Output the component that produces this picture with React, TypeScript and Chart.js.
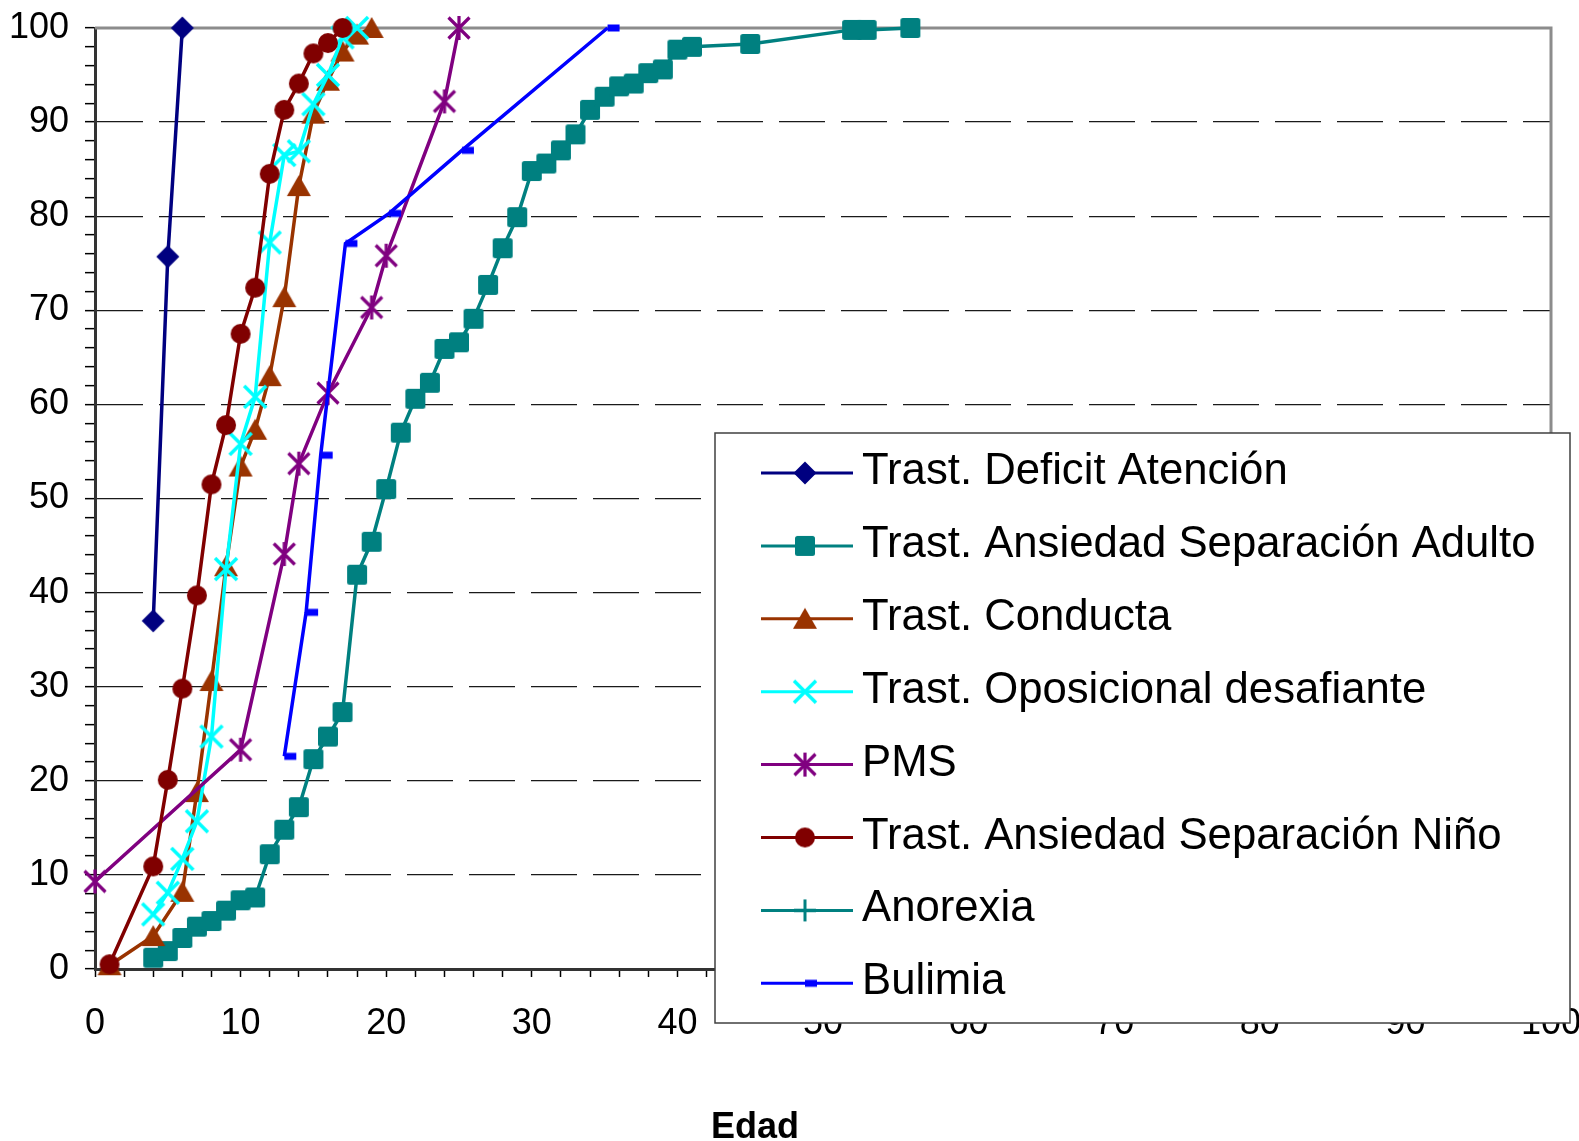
import React, { useEffect, useRef } from 'react';
import { Chart, registerables } from 'chart.js';

Chart.register(...registerables);

// ---- Data ----
const seriesNames = [
  'Trast. Deficit Atención',
  'Trast. Ansiedad Separación Adulto',
  'Trast. Conducta',
  'Trast. Oposicional desafiante',
  'PMS',
  'Trast. Ansiedad Separación Niño',
  'Anorexia',
  'Bulimia',
];

const deficitX = [4, 5, 6];
const deficitY = [37.0, 75.7, 100];

const adultoX = [4, 5, 6, 7, 8, 9, 10, 11, 12, 13, 14, 15, 16, 17, 18, 19, 20, 21, 22, 23, 24, 25, 26, 27, 28, 29, 30, 31, 32, 33, 34, 35, 36, 37, 38, 39, 40, 41, 45, 52, 53, 56];
const adultoY = [1.2, 1.9, 3.3, 4.5, 5.1, 6.2, 7.3, 7.6, 12.2, 14.8, 17.2, 22.3, 24.7, 27.3, 41.9, 45.4, 51.0, 57.0, 60.6, 62.3, 65.9, 66.6, 69.1, 72.7, 76.6, 79.9, 84.8, 85.6, 87.0, 88.7, 91.3, 92.7, 93.8, 94.1, 95.2, 95.6, 97.7, 98.0, 98.3, 99.8, 99.8, 100];

const conductaX = [1, 4, 6, 7, 8, 9, 10, 11, 12, 13, 14, 15, 16, 17, 18, 19];
const conductaY = [0.4, 3.5, 8.2, 18.8, 30.6, 42.8, 53.4, 57.3, 63.0, 71.4, 83.2, 90.9, 94.4, 97.5, 99.3, 100];

const oposicionalX = [4, 5, 6, 7, 8, 9, 10, 11, 12, 13, 14, 15, 16, 17, 18];
const oposicionalY = [5.8, 8.1, 11.7, 15.7, 24.7, 42.5, 55.8, 60.8, 77.2, 86.5, 86.9, 91.9, 95.0, 99.0, 100];

const pmsX = [0, 10, 13, 14, 16, 19, 20, 24, 25];
const pmsY = [9.3, 23.3, 44.1, 53.7, 61.2, 70.3, 75.8, 92.2, 100];

const ninoX = [1, 4, 5, 6, 7, 8, 9, 10, 11, 12, 13, 14, 15, 16, 17];
const ninoY = [0.5, 10.9, 20.1, 29.8, 39.7, 51.5, 57.8, 67.5, 72.4, 84.5, 91.3, 94.1, 97.3, 98.4, 100];

const anorexiaX: number[] = [];
const anorexiaY: number[] = [];

const bulimiaX = [13, 14.5, 15.5, 17.2, 20.2, 25.2, 35.2];
const bulimiaY = [22.6, 37.9, 54.6, 77.1, 80.3, 87.0, 100];

const xTickLabels = ['0', '10', '20', '30', '40', '50', '60', '70', '80', '90', '100'];
const yTickLabels = ['0', '10', '20', '30', '40', '50', '60', '70', '80', '90', '100'];
const xAxisTitle = 'Edad';

// ---- Styles ----
const colors = ['#000080', '#008080', '#993300', '#00FFFF', '#800080', '#800000', '#008080', '#0000FF'];
const markerKinds = ['diamond', 'square', 'triangle', 'x', 'asterisk', 'circle', 'plus', 'dash'];
const FONT = "'Liberation Sans', Arial, Helvetica, sans-serif";

function zip(xs: number[], ys: number[]) {
  return xs.map((x, i) => ({ x, y: ys[i] }));
}

function makeMarker(kind: string, color: string): HTMLCanvasElement {
  const c = document.createElement('canvas');
  const s = 34;
  c.width = s;
  c.height = s;
  const g = c.getContext('2d')!;
  const m = s / 2;
  g.fillStyle = color;
  g.strokeStyle = color;
  g.lineCap = 'butt';
  switch (kind) {
    case 'diamond':
      g.beginPath();
      g.moveTo(m, m - 11.5);
      g.lineTo(m + 11.5, m);
      g.lineTo(m, m + 11.5);
      g.lineTo(m - 11.5, m);
      g.closePath();
      g.fill();
      break;
    case 'square':
      g.beginPath();
      (g as any).roundRect ? (g as any).roundRect(m - 10, m - 10, 20, 20, 2.5) : g.rect(m - 10, m - 10, 20, 20);
      g.fill();
      break;
    case 'triangle':
      g.beginPath();
      g.moveTo(m, m - 11);
      g.lineTo(m + 12, m + 10);
      g.lineTo(m - 12, m + 10);
      g.closePath();
      g.fill();
      break;
    case 'x':
      g.lineWidth = 3.5;
      g.beginPath();
      g.moveTo(m - 11, m - 11);
      g.lineTo(m + 11, m + 11);
      g.moveTo(m + 11, m - 11);
      g.lineTo(m - 11, m + 11);
      g.stroke();
      break;
    case 'asterisk':
      g.lineWidth = 3.2;
      g.beginPath();
      g.moveTo(m - 10.5, m - 10.5);
      g.lineTo(m + 10.5, m + 10.5);
      g.moveTo(m + 10.5, m - 10.5);
      g.lineTo(m - 10.5, m + 10.5);
      g.moveTo(m, m - 12);
      g.lineTo(m, m + 12);
      g.stroke();
      break;
    case 'circle':
      g.beginPath();
      g.arc(m, m, 10, 0, Math.PI * 2);
      g.fill();
      break;
    case 'plus':
      g.lineWidth = 3;
      g.beginPath();
      g.moveTo(m, m - 11);
      g.lineTo(m, m + 11);
      g.moveTo(m - 11, m);
      g.lineTo(m + 11, m);
      g.stroke();
      break;
    case 'dash':
      g.fillRect(m, m - 3.5, 12, 7);
      break;
  }
  return c;
}

function zeroPadding(scale: any) {
  scale.paddingTop = 0;
  scale.paddingBottom = 0;
  scale.paddingLeft = 0;
  scale.paddingRight = 0;
}

export default function App() {
  const canvasRef = useRef<HTMLCanvasElement | null>(null);

  useEffect(() => {
    const canvas = canvasRef.current;
    if (!canvas) return;

    const markers = markerKinds.map((k, i) => makeMarker(k, colors[i]));
    const seriesData = [
      zip(deficitX, deficitY),
      zip(adultoX, adultoY),
      zip(conductaX, conductaY),
      zip(oposicionalX, oposicionalY),
      zip(pmsX, pmsY),
      zip(ninoX, ninoY),
      zip(anorexiaX, anorexiaY),
      zip(bulimiaX, bulimiaY),
    ];
    const n = seriesNames.length;

    const datasets = seriesNames.map((name, i) => ({
      label: name,
      data: seriesData[i],
      showLine: true,
      borderColor: colors[i],
      backgroundColor: colors[i],
      borderWidth: 3.5,
      pointStyle: markers[i] as any,
      pointRadius: 10,
      pointHoverRadius: 10,
      clip: false as any,
      order: n - i,
      tension: 0,
    }));

    const framePlugin = {
      id: 'frame',
      beforeDatasetsDraw(chart: any) {
        const { ctx, chartArea: a } = chart;
        ctx.save();
        ctx.strokeStyle = '#8c8c8c';
        ctx.lineWidth = 3;
        ctx.beginPath();
        ctx.moveTo(a.left, a.top);
        ctx.lineTo(a.right, a.top);
        ctx.lineTo(a.right, a.bottom);
        ctx.stroke();
        ctx.restore();
      },
    };

    const overlayPlugin = {
      id: 'overlay',
      afterDraw(chart: any) {
        const ctx = chart.ctx as CanvasRenderingContext2D;
        ctx.save();
        // axis title
        ctx.fillStyle = '#000';
        ctx.font = `bold 36px ${FONT}`;
        ctx.textAlign = 'center';
        ctx.textBaseline = 'middle';
        ctx.fillText(xAxisTitle, 755, 1128);

        // legend box
        const lx = 715, ly = 433, lw = 855, lh = 590;
        ctx.fillStyle = '#ffffff';
        ctx.fillRect(lx, ly, lw, lh);
        ctx.strokeStyle = '#404040';
        ctx.lineWidth = 1.5;
        ctx.strokeRect(lx, ly, lw, lh);

        ctx.font = `43.7px ${FONT}`;
        ctx.textAlign = 'left';
        ctx.textBaseline = 'alphabetic';
        for (let i = 0; i < n; i++) {
          const y = 473 + i * 72.9;
          ctx.strokeStyle = colors[i];
          ctx.lineWidth = 3;
          ctx.beginPath();
          ctx.moveTo(761, y);
          ctx.lineTo(853, y);
          ctx.stroke();
          const mk = markers[i];
          ctx.drawImage(mk, 805 - mk.width / 2, y - mk.height / 2);
          ctx.fillStyle = '#000';
          ctx.fillText(seriesNames[i], 862, y + 11);
        }
        ctx.restore();
      },
    };

    const chart = new Chart(canvas, {
      type: 'scatter',
      data: { datasets: datasets as any },
      options: {
        animation: false,
        responsive: false,
        devicePixelRatio: 1,
        layout: { padding: { top: 28, right: 28, left: 0, bottom: 0 } },
        plugins: {
          legend: { display: false },
          tooltip: { enabled: false },
          title: { display: false },
        },
        scales: {
          x: {
            type: 'linear',
            min: 0,
            max: 100,
            afterFit: (scale: any) => {
              scale.height = 172;
              zeroPadding(scale);
            },
            afterBuildTicks: (scale: any) => {
              const t = [];
              for (let v = 0; v <= 100; v += 2) t.push({ value: v });
              scale.ticks = t;
            },
            ticks: {
              autoSkip: false,
              maxRotation: 0,
              minRotation: 0,
              padding: 25,
              color: '#000',
              font: { family: FONT, size: 36 },
              callback: (v: any) => (Number(v) % 10 === 0 ? xTickLabels[Number(v) / 10] : ''),
            },
            grid: {
              drawOnChartArea: false,
              drawTicks: true,
              tickLength: 8,
              tickColor: '#000',
              tickWidth: 1.5,
              color: '#000',
            },
            border: { display: true, color: '#333', width: 3 },
          },
          y: {
            type: 'linear',
            min: 0,
            max: 100,
            afterFit: (scale: any) => {
              scale.width = 95;
              zeroPadding(scale);
            },
            afterBuildTicks: (scale: any) => {
              const t = [];
              for (let v = 0; v <= 100; v += 2) t.push({ value: v });
              scale.ticks = t;
            },
            ticks: {
              autoSkip: false,
              padding: 16,
              color: '#000',
              font: { family: FONT, size: 36 },
              callback: (v: any) => (Number(v) % 10 === 0 ? yTickLabels[Number(v) / 10] : ''),
            },
            grid: {
              drawOnChartArea: true,
              drawTicks: true,
              tickLength: 10,
              tickColor: '#000',
              tickWidth: 1.5,
              lineWidth: 1.3,
              color: (ctx: any) => {
                const v = ctx.tick ? ctx.tick.value : -1;
                return v % 10 === 0 && v > 0 && v < 100 ? '#1a1a1a' : 'rgba(0,0,0,0)';
              },
            },
            border: { display: true, color: '#333', width: 3, dash: [46, 16] },
          },
        },
      },
      plugins: [framePlugin, overlayPlugin],
    });

    return () => {
      chart.destroy();
    };
  }, []);

  return (
    <div style={{ position: 'absolute', left: 0, top: 0, width: 1579, height: 1141, background: '#fff' }}>
      <canvas ref={canvasRef} width={1579} height={1141} style={{ display: 'block' }} />
    </div>
  );
}
